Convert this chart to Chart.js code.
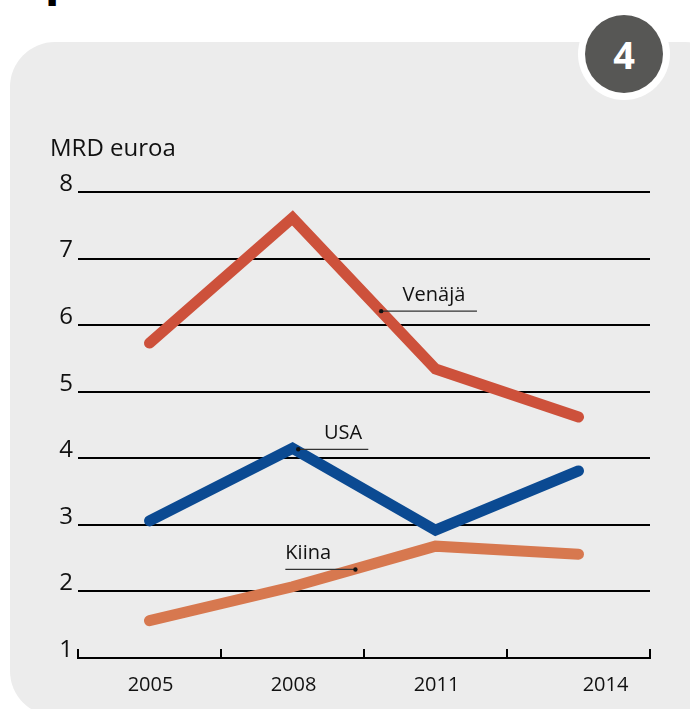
<!DOCTYPE html>
<html>
<head>
<meta charset="utf-8">
<script src="https://cdn.jsdelivr.net/npm/chart.js@4.4.1/dist/chart.umd.min.js"></script>
<style>
  html, body { margin: 0; padding: 0; width: 690px; height: 709px; overflow: hidden; background: #fff; }
  .panel { position: absolute; left: 10px; top: 42px; width: 720px; height: 674px; border-radius: 45px; background: #ececec; }
  .cut { position: absolute; left: 46px; top: -35px; font: 800 38px 'Open Sans', sans-serif; line-height: 34px; color: #000; }
  .badge { position: absolute; left: 578px; top: 8px; width: 92px; height: 92px; border-radius: 50%; background: #fff; }
  .badge span { position: absolute; left: 7px; top: 7px; width: 78px; height: 78px; border-radius: 50%; background: #575755;
    color: #fff; font: bold 38px 'Open Sans', sans-serif; line-height: 78px; text-align: center; }
  #chart { position: absolute; left: 0; top: 0; }
</style>
</head>
<body>
<div class="cut">p</div>
<div class="panel"></div>
<div class="badge"><span>4</span></div>
<canvas id="chart" width="690" height="709"></canvas>
<script>
// data
const years = ['2005', '2008', '2011', '2014'];
const venaja = [5.73, 7.61, 5.34, 4.62];
const usa = [3.06, 4.15, 2.92, 3.81];
const kiina = [1.56, 2.07, 2.68, 2.56];
const seriesNames = ['Venäjä', 'USA', 'Kiina'];
const unitLabel = 'MRD euroa';

const colors = ['#cd513b', '#0b4a92', '#d7784f'];
const font = "'Open Sans', sans-serif";

// label callouts: leader line from x1 to x2 (category units) at value y, dot at one end
const callouts = [
  { text: seriesNames[0], x1: 1.62, x2: 2.29, y: 6.21, dotAt: 'x1', textX: 1.77 },
  { text: seriesNames[1], x1: 1.04, x2: 1.53, y: 4.135, dotAt: 'x1', textX: 1.22 },
  { text: seriesNames[2], x1: 0.95, x2: 1.44, y: 2.33, dotAt: 'x2', textX: 0.95 }
];

const extras = {
  id: 'extras',
  afterDatasetsDraw(chart) {
    const ctx = chart.ctx;
    const xs = chart.scales.x, ys = chart.scales.y;
    const area = chart.chartArea;
    ctx.save();

    // unit label
    ctx.fillStyle = '#111';
    ctx.font = '24px ' + font;
    ctx.textAlign = 'left';
    ctx.textBaseline = 'alphabetic';
    ctx.fillText(unitLabel, 50, 156);

    // x axis ticks pointing up, at category boundaries
    ctx.strokeStyle = '#000';
    ctx.lineWidth = 2;
    for (let i = 0; i <= years.length; i++) {
      const x = Math.round(xs.getPixelForValue(i - 0.5));
      ctx.beginPath();
      ctx.moveTo(x, area.bottom + 1);
      ctx.lineTo(x, area.bottom - 9);
      ctx.stroke();
    }

    // year labels (last one sits further right in the original)
    const shift = [1, 1, 1, 27];
    ctx.fillStyle = '#111';
    ctx.font = '20px ' + font;
    ctx.textAlign = 'center';
    years.forEach((y, i) => {
      ctx.fillText(y, xs.getPixelForValue(i) + shift[i], area.bottom + 33);
    });

    // callouts
    ctx.font = '20px ' + font;
    ctx.textAlign = 'left';
    callouts.forEach(c => {
      const x1 = xs.getPixelForValue(c.x1), x2 = xs.getPixelForValue(c.x2);
      const yy = ys.getPixelForValue(c.y);
      ctx.strokeStyle = '#333';
      ctx.lineWidth = 1.3;
      ctx.beginPath();
      ctx.moveTo(x1, yy);
      ctx.lineTo(x2, yy);
      ctx.stroke();
      ctx.fillStyle = '#111';
      ctx.beginPath();
      ctx.arc(c.dotAt === 'x1' ? x1 : x2, yy, 2.2, 0, Math.PI * 2);
      ctx.fill();
      ctx.fillText(c.text, xs.getPixelForValue(c.textX), yy - 10);
    });
    ctx.restore();
  }
};

new Chart(document.getElementById('chart'), {
  type: 'line',
  data: {
    labels: years,
    datasets: [venaja, usa, kiina].map((d, i) => ({
      label: seriesNames[i],
      data: d,
      borderColor: colors[i],
      borderWidth: 11,
      borderCapStyle: 'round',
      borderJoinStyle: 'miter',
      pointRadius: 0,
      tension: 0,
      fill: false,
      clip: false
    }))
  },
  options: {
    responsive: false,
    animation: false,
    layout: { padding: { left: 0, top: 192, right: 40, bottom: 0 } },
    plugins: { legend: { display: false }, tooltip: { enabled: false } },
    scales: {
      x: {
        offset: true,
        grid: { display: false },
        border: { display: false },
        ticks: { display: false },
        afterFit: (s) => { s.height = 51; }
      },
      y: {
        min: 1,
        max: 8,
        ticks: {
          stepSize: 1,
          padding: 5,
          labelOffset: -8,
          color: '#111',
          font: { family: font, size: 24 }
        },
        grid: { color: '#000', lineWidth: 2, drawTicks: false },
        border: { display: false },
        afterFit: (s) => { s.width = 78; }
      }
    }
  },
  plugins: [extras]
});
</script>
</body>
</html>
